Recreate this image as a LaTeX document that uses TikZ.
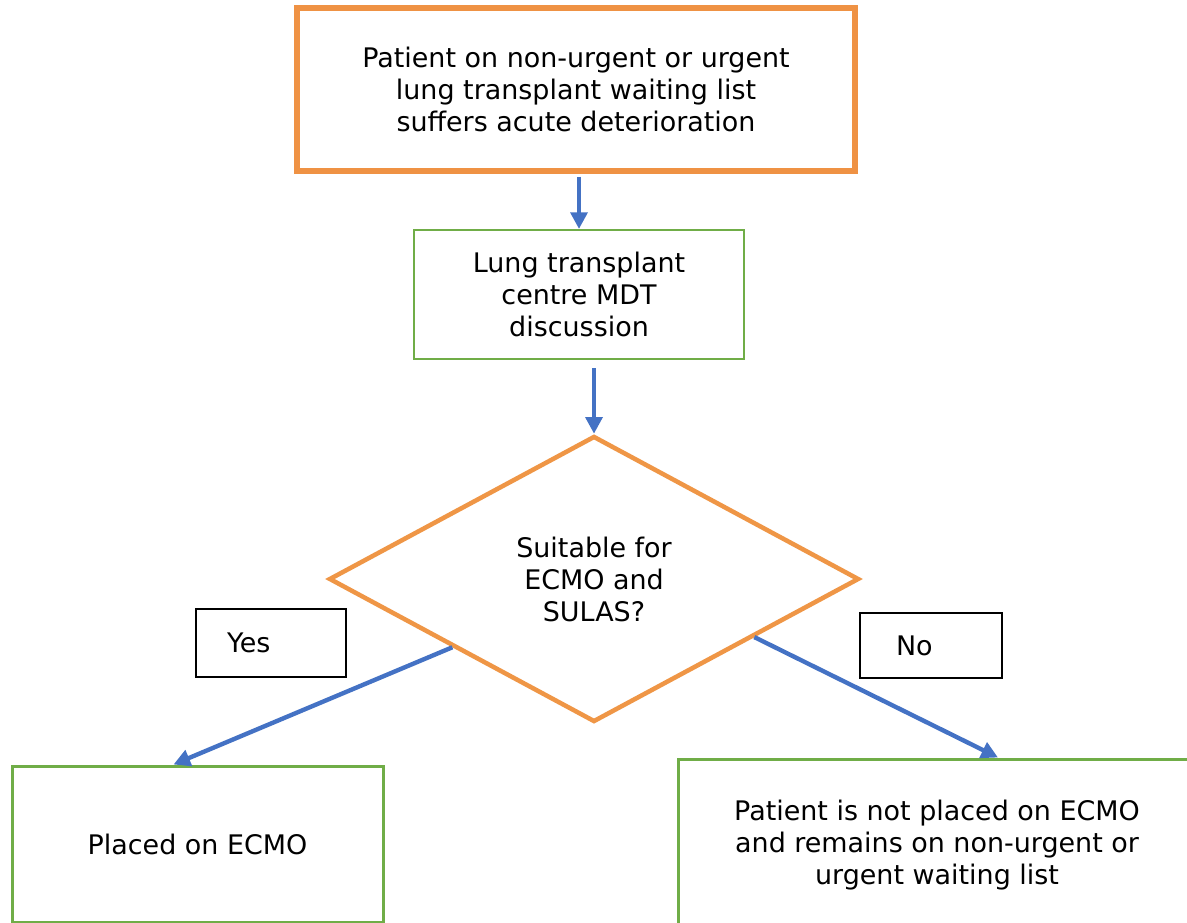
\documentclass[tikz,border=0pt]{standalone}
\usepackage{fontspec}
\setmainfont{DejaVu Sans}
\usetikzlibrary{shapes.geometric,arrows.meta,calc}

\tikzset{every picture/.style={line width=0.75pt}}
\tikzset{
  txt/.style={font=\fontsize{20.2}{24}\selectfont, align=center, text=black},
  orangebox/.style={txt, draw={rgb, 255:red, 239; green, 146; blue, 68}, fill=white, line width=4.5pt},
  greenbox/.style={txt, draw={rgb, 255:red, 112; green, 173; blue, 71}, fill=white, line width=2.25pt},
  decision/.style={txt, diamond, draw={rgb, 255:red, 239; green, 150; blue, 70}, line width=3.4pt, inner sep=0pt},
  labelbox/.style={txt, draw=black, line width=2pt, align=left},
  flow/.style={draw={rgb, 255:red, 68; green, 114; blue, 196}, line width=3.3pt, -{Triangle[length=12.5pt,width=12.5pt]}}
}

\begin{document}
\begin{tikzpicture}[x=0.75pt,y=0.75pt,yscale=-1,xscale=1]
%set diagram size: 1187 x 923
\useasboundingbox (0,0) rectangle (1187,923);

%Shape: Rectangle
\node [orangebox, minimum width=418.5pt, minimum height=122.25pt] (waitlist) at (576,89.5) {Patient on non-urgent or urgent\\lung transplant waiting list\\suffers acute deterioration};
%Shape: Rectangle
\node [greenbox, line width=1.5pt, minimum width=247.5pt, minimum height=96.75pt] (mdt) at (579,294.5) {Lung transplant\\centre MDT\\discussion};
%Shape: Diamond
\node [decision, minimum width=397.5pt, minimum height=214.5pt] (suitable) at (594,579) {Suitable for\\ECMO and\\SULAS?};

%Shape: Rectangle
\node [labelbox, text width=66pt, inner xsep=23.25pt, minimum height=51pt] (yes) at (271,643) {Yes};
%Shape: Rectangle
\node [labelbox, text width=52.5pt, inner xsep=27pt, minimum height=48.75pt] (no) at (931,645.5) {No};

%Shape: Rectangle
\node [greenbox, minimum width=278.25pt, minimum height=117pt] (placed) at (197.5,844) {Placed on ECMO};
%Shape: Rectangle
\node [greenbox, minimum width=388.5pt, minimum height=129pt] (notplaced) at (937,845) {Patient is not placed on ECMO\\and remains on non-urgent or\\urgent waiting list};

%Straight Lines
\draw [flow, shorten <=2pt] (waitlist.south -| mdt.north) -- (mdt.north);
%Straight Lines
\draw [flow, shorten <=6pt] (mdt.south -| suitable.north) -- (suitable.north);
%Straight Lines
\draw [flow] ($(suitable.west)!0.47!(suitable.south)$) -- ([xshift=-18pt]placed.north);
%Straight Lines
\draw [flow] ($(suitable.east)!0.4!(suitable.south)$) -- ([xshift=45.75pt]notplaced.north);

\end{tikzpicture}
\end{document}
